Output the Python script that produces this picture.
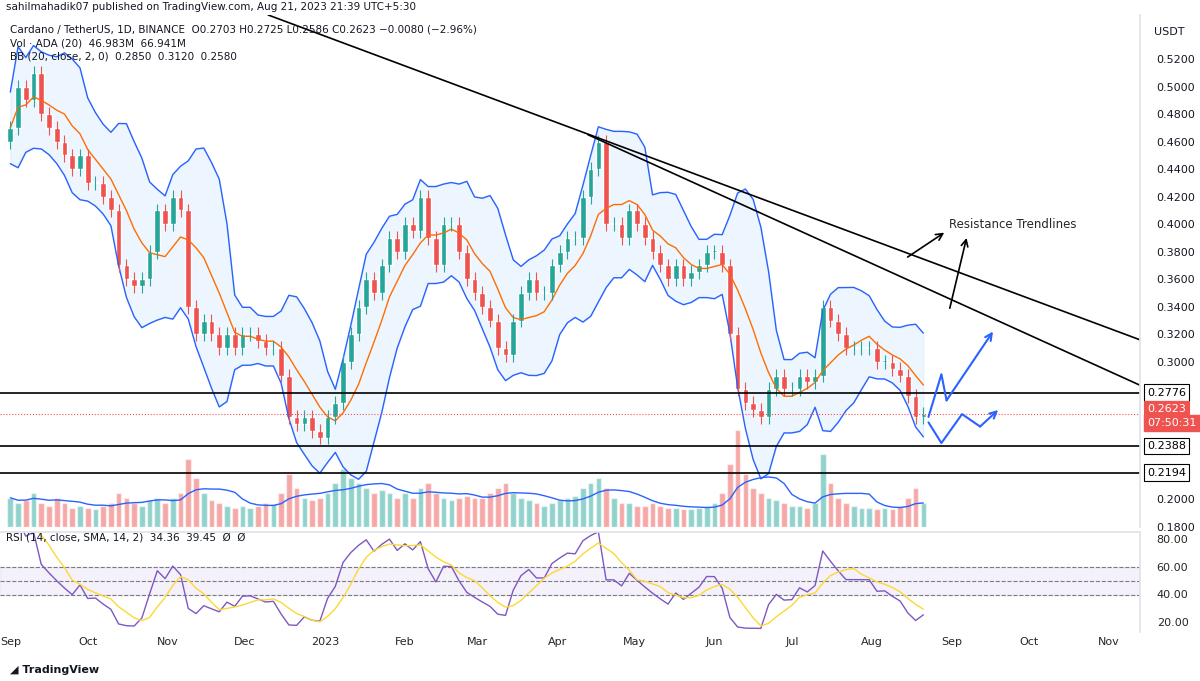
import numpy as np, pandas as pd, matplotlib
matplotlib.use("Agg")
import matplotlib.pyplot as plt, seaborn as sns

sns.set_theme(style="white", font="DejaVu Sans")

closes = [0.47,0.50,0.49,0.51,0.48,0.47,0.46,0.45,0.44,0.45,
          0.43,0.43,0.42,0.41,0.37,0.36,0.355,0.36,0.38,0.41,0.40,
          0.42,0.41,0.34,0.32,0.33,0.32,0.31,0.32,0.31,0.32,
          0.32,0.315,0.31,0.31,0.29,0.26,0.255,0.26,0.25,0.245,
          0.26,0.27,0.30,0.32,0.34,0.36,0.35,0.37,0.39,0.38,
          0.40,0.395,0.42,0.39,0.37,0.40,0.40,0.38,0.36,0.35,
          0.34,0.33,0.31,0.305,0.33,0.35,0.36,0.35,0.35,0.37,
          0.38,0.39,0.39,0.42,0.44,0.46,0.40,0.40,0.39,0.41,
          0.40,0.39,0.38,0.37,0.36,0.37,0.36,0.365,0.37,0.38,
          0.38,0.37,0.32,0.28,0.27,0.265,0.26,0.28,0.29,0.28,
          0.28,0.29,0.285,0.29,0.34,0.33,0.32,0.31,0.31,0.31,0.31,
          0.30,0.30,0.295,0.29,0.275,0.26,0.2623]
volumes = [30,25,28,35,25,22,30,25,20,22,
           20,18,22,25,35,30,25,22,28,30,25,
           30,35,70,50,35,28,25,22,20,22,
           20,22,25,24,35,55,40,30,28,30,
           35,45,60,50,45,40,35,38,35,30,
           35,30,40,45,35,30,28,30,32,30,
           30,35,40,45,35,30,28,25,22,25,
           28,30,32,40,45,50,40,30,25,25,
           22,22,25,22,20,20,18,18,20,22,
           25,35,65,100,55,40,35,30,28,25,
           22,22,20,25,75,45,30,25,22,20,20,
           18,20,18,22,30,40,25]
levels = [0.2776, 0.2388, 0.2194]
month_labels = ["Sep","Oct","Nov","Dec","2023","Feb","Mar","Apr","May","Jun","Jul","Aug","Sep","Oct","Nov"]
price_ticks = [0.18,0.20,0.30,0.32,0.34,0.36,0.38,0.40,0.42,0.44,0.46,0.48,0.50,0.52]

start = pd.Timestamp("2022-09-01")
days = np.arange(len(closes))*3
df = pd.DataFrame({"day": days, "close": closes, "vol": volumes})
df["open"] = df["close"].shift(1).fillna(0.46)
ma = df["close"].rolling(7, min_periods=1).mean()
sd = df["close"].rolling(7, min_periods=2).std().fillna(0.01)
df["mid"], df["up"], df["lo"] = ma, ma+1.6*sd+0.01, ma-1.6*sd-0.01
delta = (df["close"]-df["open"])
g = delta.clip(lower=0).ewm(alpha=1/6, adjust=False).mean(); l = (-delta.clip(upper=0)).ewm(alpha=1/6, adjust=False).mean()
df["rsi"] = 100-100/(1+(g+0.001)/(l+0.001)); df["rsi_sma"] = df["rsi"].rolling(5, min_periods=1).mean()

def dnum(s): return (pd.Timestamp(s)-start).days
mticks = [dnum(d) for d in ["2022-09-01","2022-10-01","2022-11-01","2022-12-01","2023-01-01","2023-02-01","2023-03-01","2023-04-01","2023-05-01","2023-06-01","2023-07-01","2023-08-01","2023-09-01","2023-10-01","2023-11-01"]]

fig = plt.figure(figsize=(12,6.81), dpi=100)
X0, X1 = -4, 438
ax = fig.add_axes([0.0, 1-527/681, 0.95, 512/681])
axv = fig.add_axes([0.0, 1-527/681, 0.95, 107/681], sharex=ax); axv.set_zorder(0); ax.set_zorder(1); ax.patch.set_alpha(0)
axr = fig.add_axes([0.0, 1-632/681, 0.95, 100/681])

green, red = "#26a69a", "#ef5350"
axv.bar(df["day"], df["vol"], width=2.2, color=[green if c>=o else red for c,o in zip(df["close"],df["open"])], alpha=0.5)
axv.plot(df["day"], df["vol"].rolling(7,min_periods=1).mean(), color="#2962ff", lw=1)
axv.set_ylim(0,110); axv.axis("off")

ax.fill_between(df["day"], df["lo"], df["up"], color="#2196f3", alpha=0.08)
sns.lineplot(x=df["day"], y=df["up"], ax=ax, color="#2962ff", lw=1)
sns.lineplot(x=df["day"], y=df["lo"], ax=ax, color="#2962ff", lw=1)
sns.lineplot(x=df["day"], y=df["mid"], ax=ax, color="#ff6d00", lw=1)
for d,o,c in zip(df["day"],df["open"],df["close"]):
    col = green if c>=o else red
    ax.bar(d, abs(c-o) or 0.001, bottom=min(o,c), width=2.2, color=col)
    ax.vlines(d, min(o,c)-0.005, max(o,c)+0.005, color=col, lw=0.8)
for lv in levels:
    ax.axhline(lv, color="black", lw=1.2)
ax.axhline(closes[-1], color=red, lw=0.8, ls=":")
ax.plot([dnum("2022-12-10"), X1], [0.552, 0.316], color="black", lw=1.2)
ax.plot([dnum("2023-04-13"), X1], [0.465, 0.283], color="black", lw=1.2)
ax.annotate("", xy=(dnum("2023-09-07"),0.392), xytext=(dnum("2023-08-31"),0.337), arrowprops=dict(arrowstyle="->", color="black", lw=1.2))
ax.annotate("", xy=(dnum("2023-08-30"),0.395), xytext=(dnum("2023-08-14"),0.375), arrowprops=dict(arrowstyle="->", color="black", lw=1.2))
ax.text(dnum("2023-08-31"), 0.397, "Resistance Trendlines", fontsize=8.5)
blue = "#2962ff"
ax.annotate("", xy=(dnum("2023-09-17"),0.322), xytext=(dnum("2023-08-30"),0.272), arrowprops=dict(arrowstyle="->", color=blue, lw=1.5, shrinkA=0, shrinkB=0))
ax.plot([dnum("2023-08-23"), dnum("2023-08-28"), dnum("2023-08-30")],[0.26,0.291,0.272], color=blue, lw=1.5)
ax.annotate("", xy=(dnum("2023-09-19"),0.265), xytext=(dnum("2023-09-12"),0.253), arrowprops=dict(arrowstyle="->", color=blue, lw=1.5, shrinkA=0, shrinkB=0))
ax.plot([dnum("2023-08-23"), dnum("2023-08-28"), dnum("2023-09-05"), dnum("2023-09-12")],[0.256,0.241,0.262,0.253], color=blue, lw=1.5)

ax.set_xlim(X0,X1); ax.set_ylim(0.18,0.552)
ax.yaxis.tick_right(); ax.set_yticks(price_ticks); ax.set_yticklabels([f"{p:.4f}" for p in price_ticks], fontsize=8, color="#131722")
ax.tick_params(axis="y", length=0, pad=12); ax.set_xticks([]); ax.set_xlabel(""); ax.set_ylabel("")
for s in ax.spines.values(): s.set_visible(False)
ax.spines["right"].set_visible(True); ax.spines["right"].set_color("#e0e3eb")
for lv,fc,tc in [(0.2776,"white","black"),(closes[-1],red,"white"),(0.2388,"white","black"),(0.2194,"white","black")]:
    ax.text(1.006, lv + (0.0035 if fc==red else 0), f"{lv:.4f}", transform=ax.get_yaxis_transform(), fontsize=8, color=tc, va="center",
            bbox=dict(boxstyle="square,pad=0.3", fc=fc, ec="black" if fc=="white" else red, lw=0.8))
ax.text(1.006, 0.2555, "07:50:31", transform=ax.get_yaxis_transform(), fontsize=8, color="white", va="center", bbox=dict(boxstyle="square,pad=0.3", fc=red, ec=red))

axr.axhspan(40,60, color="#7e57c2", alpha=0.08)
for v in (40,50,60): axr.axhline(v, color="#787b86", lw=0.8, ls="--")
sns.lineplot(x=df["day"], y=df["rsi"], ax=axr, color="#7e57c2", lw=1)
sns.lineplot(x=df["day"], y=df["rsi_sma"], ax=axr, color="#fdd835", lw=1)
axr.set_xlim(X0,X1); axr.set_ylim(13,85)
axr.yaxis.tick_right(); axr.set_yticks([20,40,60,80]); axr.set_yticklabels(["20.00","40.00","60.00","80.00"], fontsize=8)
axr.tick_params(axis="y", length=0, pad=12)
axr.set_xticks(mticks); axr.set_xticklabels(month_labels, fontsize=8); axr.tick_params(axis="x", length=0)
axr.set_xlabel(""); axr.set_ylabel("")
for s in axr.spines.values(): s.set_visible(False)
axr.spines["right"].set_visible(True); axr.spines["right"].set_color("#e0e3eb")
axr.spines["top"].set_visible(True); axr.spines["top"].set_color("#e0e3eb")
axr.text(0.005, 0.92, "RSI (14, close, SMA, 14, 2)  34.36  39.45  Ø  Ø", transform=axr.transAxes, fontsize=7.5, color="#131722")

fig.text(0.005, 0.985, "sahilmahadik07 published on TradingView.com, Aug 21, 2023 21:39 UTC+5:30", fontsize=7.5, color="#131722")
fig.text(0.008, 0.952, "Cardano / TetherUS, 1D, BINANCE  O0.2703 H0.2725 L0.2586 C0.2623 −0.0080 (−2.96%)", fontsize=7.5, color="#131722")
fig.text(0.008, 0.932, "Vol · ADA (20)  46.983M  66.941M", fontsize=7.5, color="#131722")
fig.text(0.008, 0.912, "BB (20, close, 2, 0)  0.2850  0.3120  0.2580", fontsize=7.5, color="#131722")
fig.text(0.962, 0.948, "USDT", fontsize=8, color="#131722")
fig.text(0.008, 0.012, "◢ TradingView", fontsize=8, color="#131722", weight="bold")
fig.savefig("out.png", dpi=100)
